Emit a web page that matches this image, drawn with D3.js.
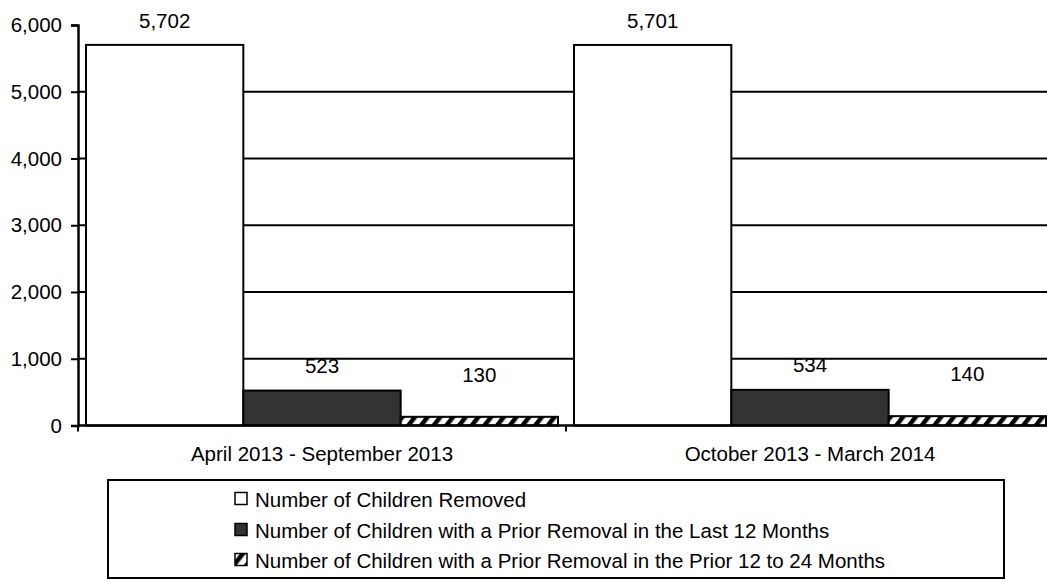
<!DOCTYPE html>
<html>
<head>
<meta charset="utf-8">
<script src="https://cdn.jsdelivr.net/npm/d3@7"></script>
<style>
  html, body { margin: 0; padding: 0; background: #fff; }
  svg { display: block; }
  text { font-family: "Liberation Sans", Arial, sans-serif; fill: #000; }
</style>
</head>
<body>
<svg id="chart" width="1047" height="581"></svg>
<script>
// ---- data ----
const categories = ["April 2013 - September 2013", "October 2013 - March 2014"];
const seriesNames = [
  "Number of Children Removed",
  "Number of Children with a Prior Removal in the Last 12 Months",
  "Number of Children with a Prior Removal in the Prior 12 to 24 Months"
];
const childrenRemoved = [5702, 5701];
const priorLast12 = [523, 534];
const prior12to24 = [130, 140];
const yTicks = [0, 1000, 2000, 3000, 4000, 5000, 6000];

// ---- setup ----
(function () {
const svg = d3.select("#chart");
const mLeft = 78, mRight = 1054, mTop = 25, mBottom = 425.5;
const fontSize = 20.5;

const defs = svg.append("defs");
const hatch = defs.append("pattern")
  .attr("id", "hatch").attr("patternUnits", "userSpaceOnUse")
  .attr("width", 10).attr("height", 10)
  .attr("patternTransform", "rotate(38)");
hatch.append("rect").attr("width", 10).attr("height", 10).attr("fill", "#fff");
hatch.append("rect").attr("width", 4.5).attr("height", 10).attr("fill", "#000");

const fills = ["#ffffff", "#333333", "url(#hatch)"];
const labelOffsets = [24, 25, 42];

const y = d3.scaleLinear().domain([0, 6000]).range([mBottom, mTop]);
const x0 = d3.scaleBand().domain(categories).range([mLeft, mRight]).padding(0);
const x1 = d3.scaleBand().domain(d3.range(seriesNames.length))
  .range([8, x0.bandwidth() - 8]).padding(0);

const seriesValues = [childrenRemoved, priorLast12, prior12to24];

// gridlines
svg.append("g").selectAll("line")
  .data(yTicks.filter(t => t > 0 && t < 6000))
  .join("line")
  .attr("x1", mLeft).attr("x2", mRight)
  .attr("y1", d => y(d)).attr("y2", d => y(d))
  .attr("stroke", "#000").attr("stroke-width", 2);

// bars
const groups = svg.append("g").selectAll("g")
  .data(categories).join("g")
  .attr("transform", d => `translate(${x0(d)},0)`);

groups.each(function(cat, ci) {
  const g = d3.select(this);
  seriesValues.forEach((vals, si) => {
    const v = vals[ci];
    g.append("rect")
      .attr("x", x1(si)).attr("width", x1.bandwidth())
      .attr("y", y(v)).attr("height", y(0) - y(v))
      .attr("fill", fills[si]).attr("stroke", "#000").attr("stroke-width", 2);
    g.append("text")
      .attr("x", x1(si) + x1.bandwidth() / 2)
      .attr("y", y(v) - labelOffsets[si])
      .attr("dy", "0.35em")
      .attr("text-anchor", "middle")
      .attr("font-size", fontSize)
      .text(d3.format(",")(v));
  });
});

// y axis
const yAxis = svg.append("g").attr("transform", `translate(${mLeft},0)`)
  .call(d3.axisLeft(y).tickValues(yTicks).tickFormat(d3.format(",")).tickSize(7).tickPadding(9));
yAxis.select(".domain").attr("stroke", "#000").attr("stroke-width", 2.5);
yAxis.selectAll(".tick line").attr("stroke", "#000").attr("stroke-width", 2);
yAxis.selectAll(".tick text").attr("font-size", fontSize)
  .style("font-family", '"Liberation Sans", Arial, sans-serif').attr("fill", "#000");

// x axis
svg.append("line").attr("x1", mLeft).attr("x2", mRight)
  .attr("y1", y(0)).attr("y2", y(0)).attr("stroke", "#000").attr("stroke-width", 2.5);
const xEdges = categories.map(c => x0(c)).concat([x0(categories[categories.length - 1]) + x0.bandwidth()]);
svg.append("g").selectAll("line").data(xEdges).join("line")
  .attr("x1", d => d).attr("x2", d => d)
  .attr("y1", y(0)).attr("y2", y(0) + 6)
  .attr("stroke", "#000").attr("stroke-width", 2);
svg.append("g").selectAll("text").data(categories).join("text")
  .attr("x", d => x0(d) + x0.bandwidth() / 2)
  .attr("y", 461)
  .attr("text-anchor", "middle")
  .attr("font-size", fontSize)
  .text(d => d);

// legend
const lg = svg.append("g");
lg.append("rect").attr("x", 108).attr("y", 480).attr("width", 896).attr("height", 98)
  .attr("fill", "#fff").attr("stroke", "#000").attr("stroke-width", 2);
const rowY = [499.5, 530.5, 560.5];
seriesNames.forEach((name, i) => {
  lg.append("rect").attr("x", 235).attr("y", rowY[i] - 7).attr("width", 12).attr("height", 12)
    .attr("fill", fills[i]).attr("stroke", "#000").attr("stroke-width", 1.5);
  lg.append("text").attr("x", 255).attr("y", rowY[i]).attr("dy", "0.35em")
    .attr("font-size", fontSize).text(name);
});
})();
</script>
</body>
</html>
